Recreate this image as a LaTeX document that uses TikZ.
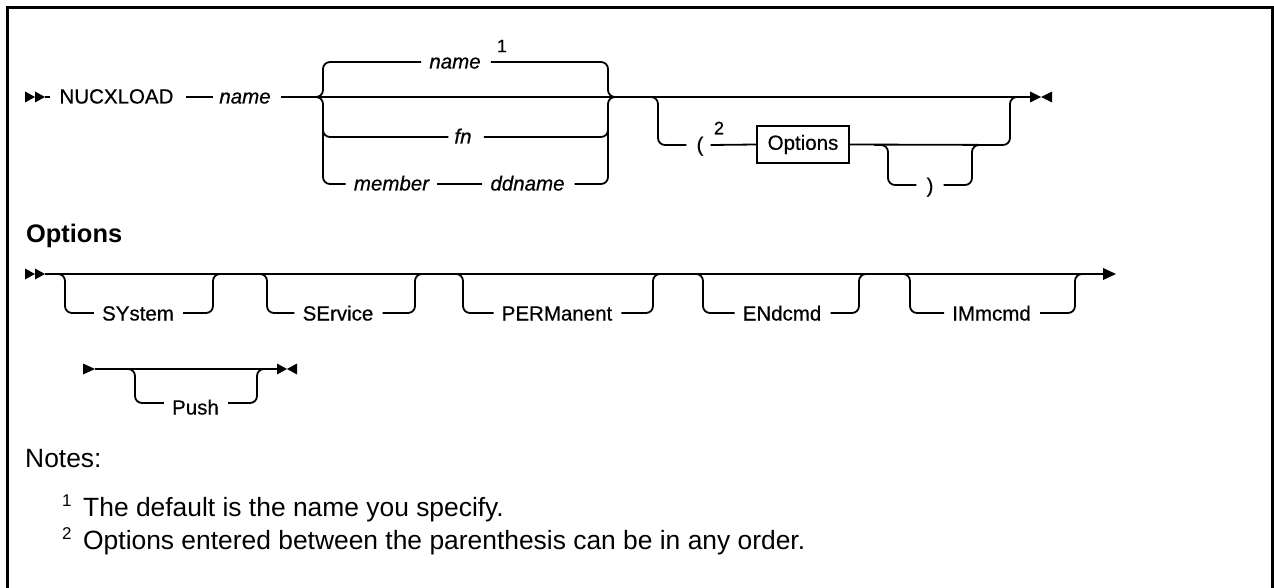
\documentclass[tikz,border=0pt]{standalone}
\usepackage{fontspec}
\setmainfont{Liberation Sans}
\newfontfamily\dfam[FakeBold=0.5]{Liberation Sans}
\newcommand\dfont{\dfam\fontsize{20.5}{24}\selectfont}
\newcommand\nfont{\fontsize{26.4}{30}\selectfont}
\newcommand\supfont{\fontsize{17}{18}\selectfont}
\newcommand\dsupfont{\dfam\fontsize{18}{18}\selectfont}
\begin{document}
\begin{tikzpicture}[x=1pt,y=-1pt,
  rr/.style={line width=1.8pt, rounded corners=7pt},
  rlab/.style={font=\dfont, inner sep=0pt, text height=13pt, text depth=0pt},
  olab/.style={font=\dfont, inner sep=0pt, text height=15pt, text depth=0pt},
  ilab/.style={font=\dfont\itshape, inner sep=0pt, text height=13pt, text depth=0pt},
  suplbl/.style={font=\dsupfont, inner sep=0pt},
  optbox/.style={draw, line width=1.8pt, font=\dfont, minimum width=92pt, minimum height=37pt, inner sep=0pt},
  tipfill/.style={fill=black}]
\useasboundingbox (0,0) rectangle (1274,588);
% frame
\draw[line width=3pt] (7.5,592) -- (7.5,7.5) -- (1272.5,7.5) -- (1272.5,592);

% ---------- main diagram ----------
\coordinate (st1) at (45,97);
\coordinate (en1) at (1030,97);
\fill[tipfill] (25,91.5) -- (35,97) -- (25,102.5) -- cycle;
\fill[tipfill] (35,91.5) -- (45,97) -- (35,102.5) -- cycle;
\fill[tipfill] (1030,91.5) -- (1041,97) -- (1030,102.5) -- cycle;
\fill[tipfill] (1052,91.5) -- (1041,97) -- (1052,102.5) -- cycle;

\node[rlab] (nucx) at (116.5,97) {NUCXLOAD};
\node[ilab] (nm0) at (245,97) {name};
\node[ilab] (nm1) at (455,62) {name};
\node[suplbl] (s1) at (502,46) {1};
\node[ilab] (fn) at (463,137) {fn};
\node[ilab] (mem) at (391.5,184) {member};
\node[ilab] (dd) at (527.5,184) {ddname};
\node[rlab] (lp) at (700,145) {(};
\node[suplbl] (s2) at (719,128) {2};
\node[optbox] (opt) at (803,144.5) {Options};
\node[rlab] (rp) at (930,186) {)};

\draw[rr] (st1) -- ([xshift=-9pt]nucx.west);
\draw[rr] ([xshift=12pt]nucx.east) -- ([xshift=-6pt]nm0.west);
\draw[rr] ([xshift=10pt]nm0.east) -- (en1);
% first brace
\draw[rr] ([xshift=-8pt]nm1.west) -- (323,62) -- (323,97) -- (312,97);
\draw[rr] ([xshift=10pt]nm1.east) -- (608,62) -- (608,97) -- (619,97);
\draw[rr] (323,115) -- (323,137) -- ([xshift=-6pt]fn.west);
\draw[rr] ([xshift=12pt]fn.east) -- (608,137) -- (608,115);
\draw[rr] (312,97) -- (323,97) -- (323,184) -- ([xshift=-8pt]mem.west);
\draw[rr] ([xshift=8pt]mem.east) -- ([xshift=-8pt]dd.west);
\draw[rr] ([xshift=10pt]dd.east) -- (608,184) -- (608,97) -- (619,97);
% option group
\draw[rr] (644,97) -- (658,97) -- (658,145) -- ([xshift=-10pt]lp.west);
\draw[rr] ([xshift=7pt]lp.east) -- (opt.west);
\draw[rr] (opt.east) -- (1010,145) -- (1010,97) -- (1024,97);
\draw[rr] (874,145) -- (888,145) -- (888,185) -- ([xshift=-10pt]rp.west|-888,185);
\draw[rr] ([xshift=10pt]rp.east|-888,185) -- (972,185) -- (972,145) -- (986,145);

% ---------- Options fragment ----------
\node[font=\fontsize{25.4}{28}\selectfont\bfseries, inner sep=0pt, anchor=base west] (ophead) at (26,243) {Options};

\coordinate (st2) at (45,274);
\coordinate (en2) at (1103,274);
\fill[tipfill] (25,268.5) -- (35,274) -- (25,279.5) -- cycle;
\fill[tipfill] (35,268.5) -- (45,274) -- (35,279.5) -- cycle;
\fill[tipfill] (1103,268) -- (1116,274) -- (1103,280) -- cycle;
\draw[rr] (st2) -- (en2);

\foreach \i/\lab/\c/\L/\R in {1/SYstem/138/65/213, 2/SErvice/338/267/415, 3/PERManent/557/463/653, 4/ENdcmd/782/703/859, 5/IMmcmd/991.5/910/1075} {
  \node[olab] (o\i) at (\c,313) {\lab};
  \draw[rr] (\L-11,274) -- (\L,274) -- (\L,313) -- ([xshift=-8pt]o\i.west);
  \draw[rr] ([xshift=9pt]o\i.east) -- (\R,313) -- (\R,274) -- (\R+11,274);
}

% Push row
\coordinate (st3) at (95,369);
\coordinate (en3) at (277,369);
\fill[tipfill] (83,363.5) -- (95,369) -- (83,374.5) -- cycle;
\fill[tipfill] (277,363.5) -- (287,369) -- (277,374.5) -- cycle;
\fill[tipfill] (297,363.5) -- (287,369) -- (297,374.5) -- cycle;
\draw[rr] (st3) -- (en3);
\node[olab] (push) at (195.5,407) {Push};
\coordinate (pl) at ([xshift=-8pt]push.west);
\coordinate (pr) at ([xshift=9pt]push.east);
\draw[rr] (124,369) -- (135,369) -- (135,403) -- (pl|-135,403);
\draw[rr] (pr|-135,403) -- (257,403) -- (257,369) -- (268,369);

% ---------- notes ----------
\node[font=\nfont, inner sep=0pt, anchor=base west] (notes) at (25,467) {Notes:};
\node[font=\supfont, inner sep=0pt, anchor=base west] (n1s) at (62,506) {1};
\node[font=\nfont, inner sep=0pt, anchor=base west] (n1) at (83,516) {The default is the name you specify.};
\node[font=\supfont, inner sep=0pt, anchor=base west] (n2s) at (62,539) {2};
\node[font=\nfont, inner sep=0pt, anchor=base west] (n2) at (83,549) {Options entered between the parenthesis can be in any order.};
\end{tikzpicture}
\end{document}
